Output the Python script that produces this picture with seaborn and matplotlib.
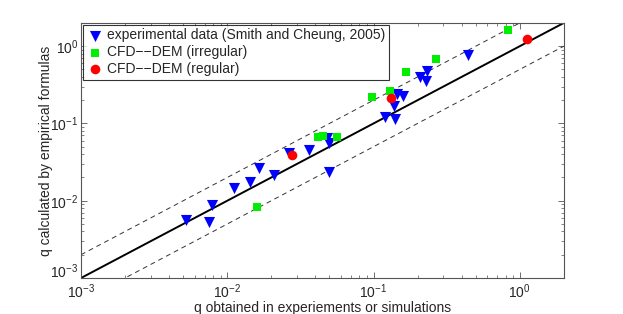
import numpy as np
import pandas as pd
import matplotlib
matplotlib.use("Agg")
import matplotlib.pyplot as plt
import seaborn as sns

# experimental data (Smith and Cheung, 2005)
exp_x = [5.22e-3, 7.54e-3, 7.82e-3, 1.107e-2, 1.43e-2, 1.66e-2, 2.08e-2, 2.64e-2,
         3.63e-2, 4.83e-2, 4.98e-2, 4.98e-2, 0.1197, 0.140, 0.138, 0.144, 0.159,
         0.209, 0.231, 0.228, 0.442]
exp_y = [5.65e-3, 5.37e-3, 8.85e-3, 1.47e-2, 1.77e-2, 2.65e-2, 2.13e-2, 4.14e-2,
         4.48e-2, 6.44e-2, 5.52e-2, 2.33e-2, 0.120, 0.114, 0.167, 0.238, 0.224,
         0.404, 0.484, 0.354, 0.780]

# CFD-DEM irregular
irr_x = [1.60e-2, 4.14e-2, 4.48e-2, 5.62e-2, 9.82e-2, 0.129, 0.168, 0.267, 0.834]
irr_y = [8.34e-3, 6.75e-2, 6.8e-2, 6.75e-2, 0.218, 0.261, 0.466, 0.682, 1.61]

# CFD-DEM regular
reg_x = [2.77e-2, 0.1315, 1.124]
reg_y = [3.88e-2, 0.214, 1.25]

lims = [1e-3, 2]
fs = 10

sns.set_style("ticks")
plt.rcParams['font.family'] = ['Liberation Sans', 'DejaVu Sans']
plt.rcParams['mathtext.fontset'] = 'custom'
plt.rcParams['mathtext.rm'] = 'Liberation Sans'
plt.rcParams['mathtext.it'] = 'Liberation Sans:italic'

fig = plt.figure(figsize=(6.23, 3.14), dpi=100)
ax = fig.add_axes([0.130, 0.1146, 0.775, 0.8124])

# reference lines y = x, y = 2x, y = x/2
xl = np.array(lims)
ax.plot(xl, xl, color='black', lw=1.4, zorder=1)
ax.plot(xl, 2 * xl, color='#333333', lw=0.7, ls=(0, (5, 4)), zorder=1)
ax.plot(xl, xl / 2, color='#333333', lw=0.7, ls=(0, (5, 4)), zorder=1)

sns.scatterplot(x=exp_x, y=exp_y, marker='v', color='#0000ff', s=64,
                linewidth=0, ax=ax, label='experimental data (Smith and Cheung, 2005)',
                zorder=3)
sns.scatterplot(x=irr_x, y=irr_y, marker='s', color='#00ee00', s=36,
                linewidth=0, ax=ax, label='CFD\u2212\u2212DEM (irregular)', zorder=3)
sns.scatterplot(x=reg_x, y=reg_y, marker='o', color='#ff0000', s=48,
                linewidth=0, ax=ax, label='CFD\u2212\u2212DEM (regular)', zorder=3)

ax.set_xscale('log')
ax.set_yscale('log')
ax.set_xlim(lims)
ax.set_ylim(lims)
ax.set_xticks([1e-3, 1e-2, 1e-1, 1e0])
ax.set_yticks([1e-3, 1e-2, 1e-1, 1e0])

for s in ax.spines.values():
    s.set_visible(True)
    s.set_color('#555555')
    s.set_linewidth(0.8)
ax.tick_params(which='both', direction='in', top=True, right=True,
               color='#555555', labelsize=fs)
ax.tick_params(which='major', length=4, width=0.6)
ax.tick_params(which='minor', length=2, width=0.5)
ax.tick_params(axis='x', which='major', pad=3)
ax.tick_params(axis='y', which='major', pad=2)

# keep the two 10^-3 labels at the corner apart
ax.get_yticklabels()[0].set_va('baseline')

ax.set_xlabel('q obtained in experiements or simulations', fontsize=fs, labelpad=0)
ax.set_ylabel('q calculated by empirical formulas', fontsize=fs, labelpad=-2)

leg = ax.legend(loc='upper left', fontsize=fs, frameon=True, fancybox=False,
                borderaxespad=0.15, handletextpad=0.3, borderpad=0.25,
                labelspacing=0.2, handlelength=1.2)
leg.get_frame().set_edgecolor('black')
leg.get_frame().set_linewidth(0.8)

fig.savefig('out.png', dpi=100)
